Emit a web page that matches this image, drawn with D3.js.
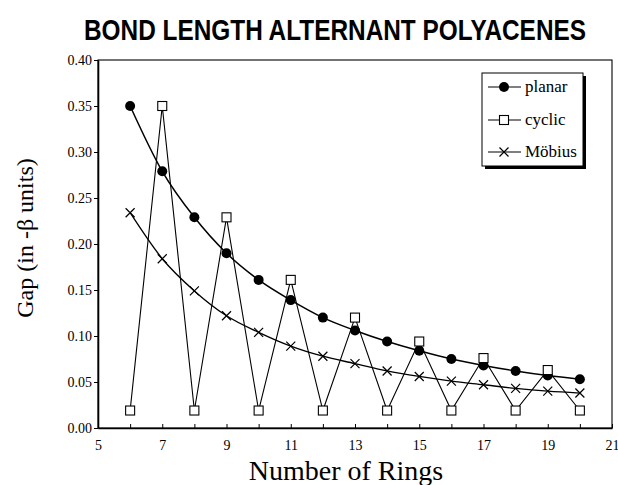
<!DOCTYPE html>
<html><head><meta charset="utf-8">
<script src="https://cdn.jsdelivr.net/npm/d3@7"></script>
<style>body{margin:0;background:#fff}</style>
</head><body><svg id="c" width="618" height="485"></svg>
<script>
const rings = [6,7,8,9,10,11,12,13,14,15,16,17,18,19,20];
const planar = [0.350,0.279,0.229,0.190,0.161,0.139,0.120,0.106,0.094,0.084,0.075,0.068,0.062,0.057,0.053];
const cyclic = [0.019,0.350,0.019,0.229,0.019,0.161,0.019,0.120,0.019,0.094,0.019,0.076,0.019,0.063,0.019];
const mobius = [0.234,0.184,0.149,0.122,0.104,0.089,0.078,0.070,0.062,0.056,0.051,0.047,0.043,0.040,0.038];
const xTickLabels = [5,7,9,11,13,15,17,19,21];
const yTickLabels = [0,0.05,0.10,0.15,0.20,0.25,0.30,0.35,0.40];
const seriesNames = ["planar","cyclic","Möbius"];

const svg = d3.select("#c");
const L=98, R=612, T=60, B=428;
const x = d3.scaleLinear().domain([5,21]).range([L,R]);
const y = d3.scaleLinear().domain([0,0.4]).range([B,T]);
const serif = "'Liberation Serif','Times New Roman',serif";

svg.append("text").attr("transform","translate(335,40) scale(1,1.1)").attr("text-anchor","middle")
  .attr("font-family","'Liberation Sans',Arial,sans-serif").attr("font-weight","bold")
  .attr("font-size",26).attr("textLength",502).attr("lengthAdjust","spacingAndGlyphs")
  .text("BOND LENGTH ALTERNANT POLYACENES");

// frame
svg.append("rect").attr("x",L).attr("y",T).attr("width",R-L).attr("height",B-T)
  .attr("fill","none").attr("stroke","#000").attr("stroke-width",1.1);

// axes
const xAxis = d3.axisBottom(x).tickValues(d3.range(5,22,1)).tickSizeInner(-4).tickSizeOuter(0)
  .tickFormat(d => xTickLabels.includes(d) ? d : "");
const gx = svg.append("g").attr("transform",`translate(0,${B})`).call(xAxis);
gx.select(".domain").attr("stroke-width",1.6);
gx.selectAll("text").attr("font-family",serif).attr("font-size",14).attr("dy","0.6em").attr("y",14);

const yAxis = d3.axisLeft(y).tickValues(yTickLabels).tickSizeInner(4).tickSizeOuter(0)
  .tickFormat(d3.format(".2f"));
const gy = svg.append("g").attr("transform",`translate(${L},0)`).call(yAxis);
gy.select(".domain").attr("stroke-width",1.6);
gy.selectAll("text").attr("font-family",serif).attr("font-size",14).attr("x",-6);

svg.append("text").attr("x",346).attr("y",480).attr("text-anchor","middle")
  .attr("font-family",serif).attr("font-size",28).text("Number of Rings");
svg.append("text").attr("transform","translate(33,238) rotate(-90)").attr("text-anchor","middle")
  .attr("font-family",serif).attr("font-size",24).text("Gap (in -β units)");

const pts = arr => rings.map((r,i)=>[r,arr[i]]);
const smooth = d3.line().x(d=>x(d[0])).y(d=>y(d[1])).curve(d3.curveMonotoneX);
const straight = d3.line().x(d=>x(d[0])).y(d=>y(d[1]));

svg.append("path").attr("d",straight(pts(cyclic))).attr("fill","none").attr("stroke","#000").attr("stroke-width",1.1);
svg.append("path").attr("d",smooth(pts(mobius))).attr("fill","none").attr("stroke","#000").attr("stroke-width",1.3);
svg.append("path").attr("d",smooth(pts(planar))).attr("fill","none").attr("stroke","#000").attr("stroke-width",1.5);

function drawX(g,cx,cy){
  g.append("path").attr("d",`M${cx-4.5},${cy-4.5}L${cx+4.5},${cy+4.5}M${cx-4.5},${cy+4.5}L${cx+4.5},${cy-4.5}`)
   .attr("stroke","#000").attr("stroke-width",1.2);
}
function drawSq(g,cx,cy){
  g.append("rect").attr("x",cx-4.5).attr("y",cy-4.5).attr("width",9).attr("height",9)
   .attr("fill","#fff").attr("stroke","#000").attr("stroke-width",1.1);
}
function drawC(g,cx,cy){
  g.append("circle").attr("cx",cx).attr("cy",cy).attr("r",5).attr("fill","#000");
}
const gm = svg.append("g");
pts(mobius).forEach(d=>drawX(gm,x(d[0]),y(d[1])));
pts(planar).forEach(d=>drawC(gm,x(d[0]),y(d[1])));
pts(cyclic).forEach(d=>drawSq(gm,x(d[0]),y(d[1])));

// legend
const lg = svg.append("g");
const lx=482, ly=73, lw=101, lh=93;
lg.append("rect").attr("x",lx+3).attr("y",ly+3).attr("width",lw).attr("height",lh).attr("fill","#000");
lg.append("rect").attr("x",lx).attr("y",ly).attr("width",lw).attr("height",lh).attr("fill","#fff").attr("stroke","#000").attr("stroke-width",1);
const rowsY=[87,120,152];
const drawers=[drawC,drawSq,drawX];
seriesNames.forEach((n,i)=>{
  lg.append("line").attr("x1",488).attr("x2",521).attr("y1",rowsY[i]).attr("y2",rowsY[i]).attr("stroke","#000").attr("stroke-width",1.1);
  drawers[i](lg,504,rowsY[i]);
  lg.append("text").attr("x",525).attr("y",rowsY[i]+5).attr("font-family",serif).attr("font-size",17).text(n);
});
</script></body></html>
